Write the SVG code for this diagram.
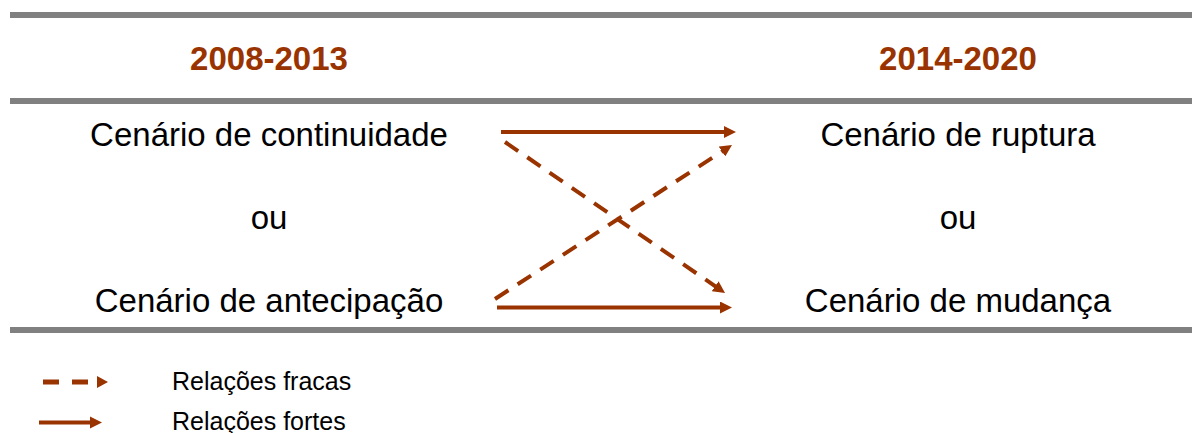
<svg xmlns="http://www.w3.org/2000/svg" width="1192" height="433" viewBox="0 0 1192 433">
<style>
.bar{fill:#808080}
.hdr{font-family:"Liberation Sans",Arial,sans-serif;font-weight:bold;font-size:33px;fill:#993300;text-anchor:middle}
.txt{font-family:"Liberation Sans",Arial,sans-serif;font-size:33px;fill:#000;text-anchor:middle}
.leg{font-family:"Liberation Sans",Arial,sans-serif;font-size:25px;fill:#000}
.arr{stroke:#993300;stroke-width:4;fill:none}
.dash{stroke-dasharray:16 11}
.head{fill:#993300}
</style>
<defs>
<marker id="ah" markerUnits="userSpaceOnUse" markerWidth="12" markerHeight="12" refX="2" refY="6" orient="auto">
<path d="M0,0 L12,6 L0,12 z" class="head"/>
</marker>
</defs>
<rect class="bar" x="10" y="12" width="1182" height="6"/>
<rect class="bar" x="10" y="98" width="1182" height="6"/>
<rect class="bar" x="10" y="327" width="1182" height="6"/>
<g id="hdr-left"><text class="hdr" x="269" y="70">2008-2013</text></g>
<g id="hdr-right"><text class="hdr" x="958" y="70">2014-2020</text></g>
<g id="node-continuidade"><text class="txt" x="269" y="146">Cenário de continuidade</text></g>
<g id="ou-left"><text class="txt" x="269" y="229">ou</text></g>
<g id="node-antecipacao"><text class="txt" x="269" y="312">Cenário de antecipação</text></g>
<g id="node-ruptura"><text class="txt" x="958" y="146">Cenário de ruptura</text></g>
<g id="ou-right"><text class="txt" x="958" y="229">ou</text></g>
<g id="node-mudanca"><text class="txt" x="958" y="312">Cenário de mudança</text></g>
<g id="connectors">
<line class="arr" x1="501" y1="132" x2="726" y2="132" marker-end="url(#ah)"/>
<line class="arr" x1="497" y1="307.5" x2="722" y2="307.5" marker-end="url(#ah)"/>
<line class="arr dash" x1="505" y1="142" x2="716.8" y2="287.3" marker-end="url(#ah)"/>
<line class="arr dash" x1="495" y1="299" x2="723.6" y2="150.4" marker-end="url(#ah)"/>
</g>
<g id="legend">
<line class="arr" style="stroke-width:5;stroke-dasharray:16 13" x1="43" y1="382" x2="88" y2="382"/>
<polygon class="head" points="97,376 108,382 97,388"/>
<text class="leg" x="172" y="390">Relações fracas</text>
<line class="arr" x1="39" y1="422.5" x2="92" y2="422.5"/>
<polygon class="head" points="90,416.5 102,422.5 90,428.5"/>
<text class="leg" x="172" y="430">Relações fortes</text>
</g>
</svg>
